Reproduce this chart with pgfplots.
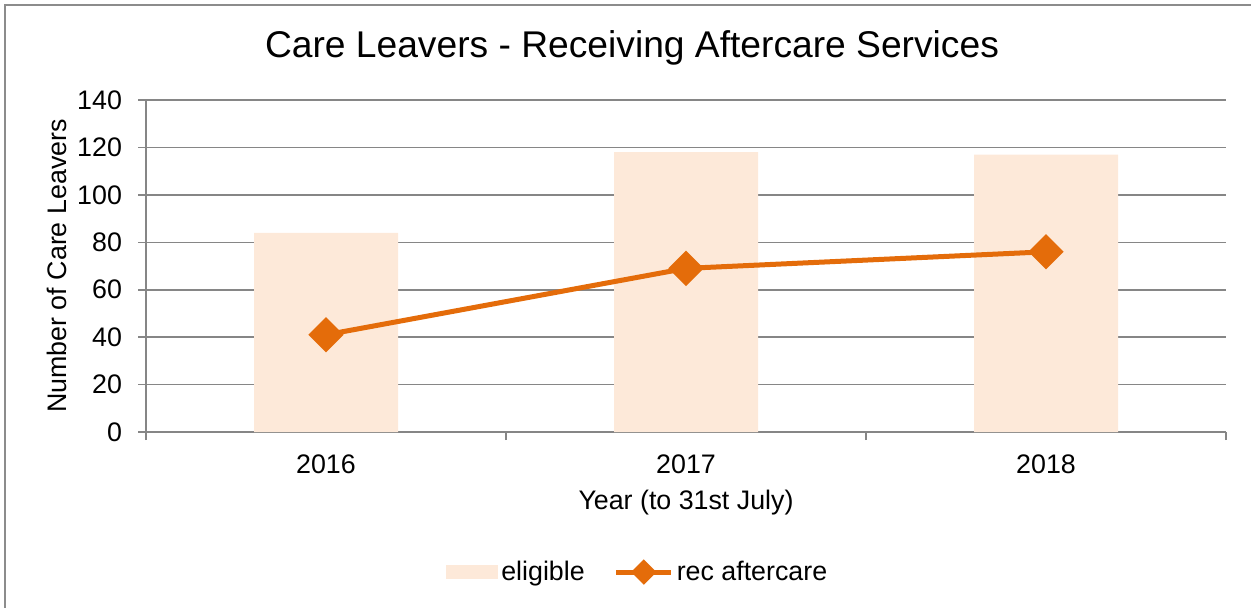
\documentclass[border=0pt]{standalone}
\usepackage{pgfplots}
\pgfplotsset{compat=1.18}
\usepackage{fontspec}
\setmainfont{Liberation Sans}
\definecolor{barfill}{HTML}{FDE9D9}
\definecolor{linecol}{HTML}{E46C0A}
\definecolor{gridgray}{HTML}{868686}
\definecolor{framegray}{HTML}{8C8C8C}
\begin{document}
\begin{tikzpicture}
\draw[framegray, line width=1pt] (2.5pt,-2.5pt) rectangle (700pt,-400pt);
\begin{axis}[
  at={(73pt,-216pt)}, anchor=south west,
  scale only axis, width=540pt, height=166pt,
  xmin=-0.5, xmax=2.5, ymin=0, ymax=140,
  ytick={0,20,...,140},
  xtick={0,1,2}, xticklabels={2016,2017,2018},
  minor xtick={-0.5,0.5,1.5,2.5},
  axis x line=bottom, axis y line=left,
  axis line style={gridgray, line width=0.8pt, -},
  x axis line style={-}, y axis line style={-},
  ymajorgrids, grid style={gridgray, line width=0.8pt},
  tick align=outside,
  major tick length=4pt, minor tick length=4pt,
  xtick style={draw=none},
  minor x tick style={gridgray, line width=0.8pt, draw=gridgray},
  ytick style={gridgray, line width=0.8pt},
  /pgf/number format/assume math mode=true,
  tick label style={font=\fontsize{13.4}{15}\selectfont, text=black},
  yticklabel style={xshift=-4.5pt},
  xticklabel style={yshift=-4pt},
  title={Care Leavers - Receiving Aftercare Services},
  title style={font=\fontsize{18.6}{21}\selectfont, at={(axis description cs:0.45,1)}, anchor=center, yshift=20pt},
  xlabel={Year (to 31st July)},
  xlabel style={font=\fontsize{13.4}{15}\selectfont, at={(axis description cs:0.5,0)}, anchor=center, yshift=-35.5pt},
  ylabel={Number of Care Leavers},
  ylabel style={font=\fontsize{13.4}{15}\selectfont, at={(axis description cs:-0.0824,0.5)}, anchor=center},
  legend style={draw=none, at={(axis description cs:0.4558,-0.4217)}, anchor=center,
    legend columns=2, font=\fontsize{13.4}{15}\selectfont,
    nodes={inner xsep=1.5pt},
    /tikz/every even column/.append style={column sep=13pt}},
  clip=false,
]
\addplot[ybar, bar width=0.4, bar shift=0pt, fill=barfill, draw=none,
  legend image code/.code={\fill[barfill] (0pt,-3.5pt) rectangle (26pt,3.5pt);}]
  coordinates {(0,84) (1,118) (2,117)};
\addlegendentry{eligible}
\addplot[linecol, line width=2.5pt, mark=square*, mark size=5pt,
  mark options={rotate=45, draw=none, fill=linecol},
  legend image code/.code={\draw[linecol, line width=2.5pt] (0pt,0pt) -- (27.5pt,0pt);
    \fill[linecol, rotate around={45:(13.75pt,0pt)}] (10.5pt,-3.25pt) rectangle (17pt,3.25pt);}]
  coordinates {(0,41) (1,69) (2,76)};
\addlegendentry{rec aftercare}
\end{axis}
\pgfresetboundingbox
\useasboundingbox (0,0) rectangle (625.5pt,-303.5pt);
\end{tikzpicture}
\end{document}
